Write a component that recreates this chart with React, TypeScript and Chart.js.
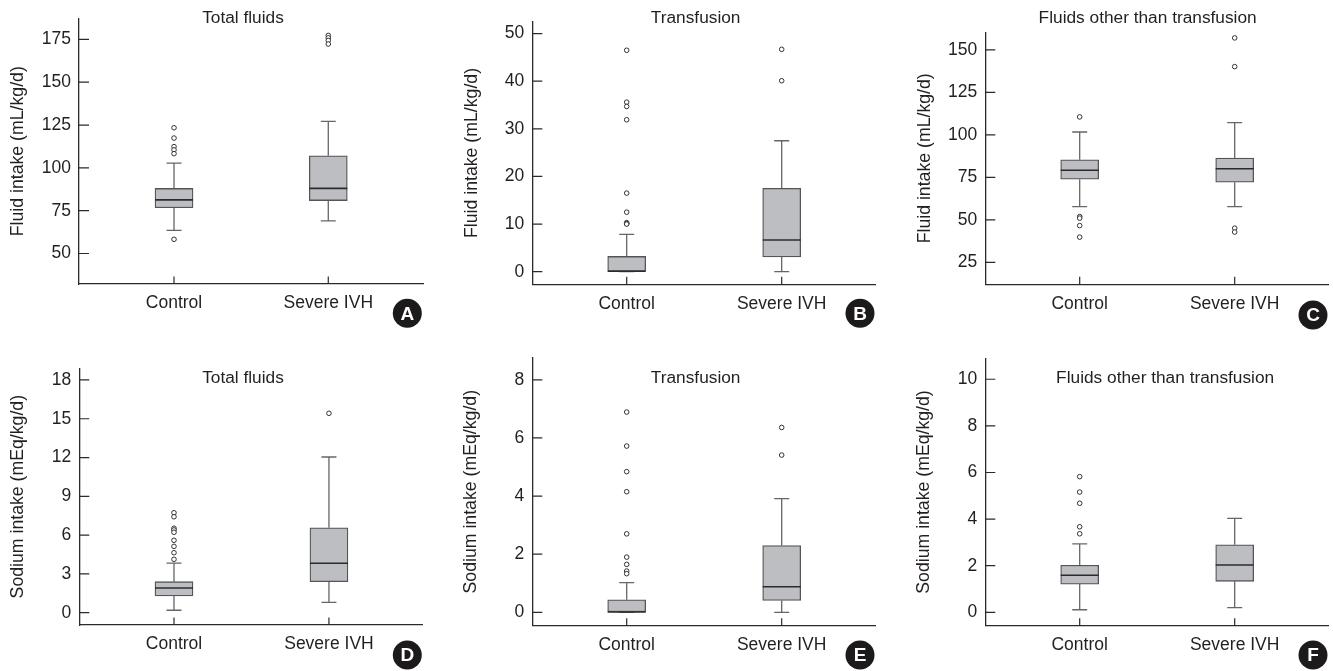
import React, { useEffect, useRef } from 'react';
import { Chart, registerables } from 'chart.js';

Chart.register(...registerables);

// ---------- data ----------
const groups = ['Control', 'Severe IVH'];
const fluidLabel = 'Fluid intake (mL/kg/d)';
const sodiumLabel = 'Sodium intake (mEq/kg/d)';
const titleTotal = 'Total fluids';
const titleTransfusion = 'Transfusion';
const titleOther = 'Fluids other than transfusion';

// A: total fluids, fluid intake
const aTicks = [50, 75, 100, 125, 150, 175];
const aRange = [32.2, 187.2];
const aLow = [63.5, 69.1];
const aQ1 = [76.7, 80.9];
const aMedian = [81.3, 88.0];
const aQ3 = [88.0, 107.0];
const aHigh = [102.8, 127.1];
const aOutControl = [123.4, 117.4, 112.4, 110.5, 108.3, 58.3];
const aOutIvh = [177.3, 175.9, 174.4, 172.3];

// B: transfusion, fluid intake
const bTicks = [0, 10, 20, 30, 40, 50];
const bRange = [-2.65, 52.5];
const bLow = [0, 0];
const bQ1 = [0, 3.1];
const bMedian = [0.1, 6.65];
const bQ3 = [3.2, 17.5];
const bHigh = [7.85, 27.5];
const bOutControl = [46.5, 35.6, 34.7, 31.9, 16.5, 12.5, 10.3, 10.1, 10.0];
const bOutIvh = [46.7, 40.1];

// C: fluids other than transfusion, fluid intake
const cTicks = [25, 50, 75, 100, 125, 150];
const cRange = [12.05, 160.4];
const cLow = [57.8, 57.8];
const cQ1 = [73.9, 72.1];
const cMedian = [79.2, 80.1];
const cQ3 = [85.3, 86.4];
const cHigh = [101.7, 107.2];
const cOutControl = [110.6, 51.9, 51.0, 46.6, 39.8];
const cOutIvh = [157.1, 140.2, 45.1, 42.8];

// D: total fluids, sodium intake
const dTicks = [0, 3, 6, 9, 12, 15, 18];
const dRange = [-0.95, 18.9];
const dLow = [0.19, 0.8];
const dQ1 = [1.29, 2.4];
const dMedian = [1.91, 3.82];
const dQ3 = [2.4, 6.57];
const dHigh = [3.84, 12.04];
const dOutControl = [7.73, 7.42, 6.53, 6.4, 6.22, 5.6, 5.13, 4.64, 4.13];
const dOutIvh = [15.42];

// E: transfusion, sodium intake
const eTicks = [0, 2, 4, 6, 8];
const eRange = [-0.46, 8.76];
const eLow = [0, 0];
const eQ1 = [0, 0.41];
const eMedian = [0.01, 0.88];
const eQ3 = [0.43, 2.3];
const eHigh = [1.02, 3.91];
const eOutControl = [6.89, 5.72, 4.84, 4.15, 2.7, 1.9, 1.65, 1.42, 1.33];
const eOutIvh = [6.36, 5.41];

// F: fluids other than transfusion, sodium intake
const fTicks = [0, 2, 4, 6, 8, 10];
const fRange = [-0.575, 10.9];
const fLow = [0.11, 0.2];
const fQ1 = [1.21, 1.33];
const fMedian = [1.59, 2.03];
const fQ3 = [2.02, 2.9];
const fHigh = [2.94, 4.03];
const fOutControl = [5.82, 5.16, 4.68, 3.67, 3.37];
const fOutIvh: number[] = [];

const panels = [
  { letter: 'A', title: titleTotal, yLabel: fluidLabel, ticks: aTicks, range: aRange, low: aLow, q1: aQ1, med: aMedian, q3: aQ3, high: aHigh, outs: [aOutControl, aOutIvh] },
  { letter: 'B', title: titleTransfusion, yLabel: fluidLabel, ticks: bTicks, range: bRange, low: bLow, q1: bQ1, med: bMedian, q3: bQ3, high: bHigh, outs: [bOutControl, bOutIvh] },
  { letter: 'C', title: titleOther, yLabel: fluidLabel, ticks: cTicks, range: cRange, low: cLow, q1: cQ1, med: cMedian, q3: cQ3, high: cHigh, outs: [cOutControl, cOutIvh] },
  { letter: 'D', title: titleTotal, yLabel: sodiumLabel, ticks: dTicks, range: dRange, low: dLow, q1: dQ1, med: dMedian, q3: dQ3, high: dHigh, outs: [dOutControl, dOutIvh] },
  { letter: 'E', title: titleTransfusion, yLabel: sodiumLabel, ticks: eTicks, range: eRange, low: eLow, q1: eQ1, med: eMedian, q3: eQ3, high: eHigh, outs: [eOutControl, eOutIvh] },
  { letter: 'F', title: titleOther, yLabel: sodiumLabel, ticks: fTicks, range: fRange, low: fLow, q1: fQ1, med: fMedian, q3: fQ3, high: fHigh, outs: [fOutControl, fOutIvh] },
];

// ---------- layout (pixels, per panel) ----------
const layouts = [
  { left: 0, top: 0, w: 445, h: 335, plot: [79, 16.7, 423, 284], xr: [-0.616, 1.614], titleY: 18.3, titleDx: -8, yTitleX: 18.3, badge: [407.3, 313.3] },
  { left: 445, top: 0, w: 443, h: 335, plot: [87.3, 21.7, 430, 284.3], xr: [-0.609, 1.602], titleY: 18.3, titleDx: -8, yTitleX: 27, badge: [415, 313.3] },
  { left: 888, top: 0, w: 445, h: 335, plot: [97.3, 32.3, 440, 284.3], xr: [-0.609, 1.602], titleY: 18.3, titleDx: -9, yTitleX: 37, badge: [425, 315] },
  { left: 0, top: 335, w: 445, h: 336, plot: [79.3, 33.3, 422.7, 290], xr: [-0.611, 1.605], titleY: 43.3, titleDx: -8, yTitleX: 18.3, badge: [407.3, 320] },
  { left: 445, top: 335, w: 443, h: 336, plot: [87.3, 22.7, 430, 290.7], xr: [-0.609, 1.602], titleY: 43.3, titleDx: -8, yTitleX: 26.5, badge: [415, 320] },
  { left: 888, top: 335, w: 445, h: 336, plot: [97.3, 23.3, 440, 290.7], xr: [-0.609, 1.602], titleY: 43.3, titleDx: 8.5, yTitleX: 36.5, badge: [425, 320] },
];

const FONT = "'Liberation Sans', Arial, Helvetica, sans-serif";
const TEXT = '#231f20';
const AXIS = '#2a2a2a';
const BOX_FILL = '#bdbec1';
const BOX_EDGE = '#555557';
const WHISKER = '#666668';
const MEDIAN = '#2b2b2d';

function makeChart(canvas: HTMLCanvasElement, p: typeof panels[number], L: typeof layouts[number]) {
  const [pl, pt, pr, pb] = L.plot;
  const titleSize = 17.7;
  const titleLH = titleSize * 1.2;

  const boxPlugin = {
    id: 'boxParts' + p.letter,
    beforeDatasetsDraw(chart: any) {
      const { ctx, scales } = chart;
      const x = scales.x, y = scales.y;
      ctx.save();
      ctx.strokeStyle = WHISKER;
      ctx.lineWidth = 1.3;
      groups.forEach((_, i) => {
        const cx = x.getPixelForValue(i);
        const yl = y.getPixelForValue(p.low[i]);
        const yh = y.getPixelForValue(p.high[i]);
        const y1 = y.getPixelForValue(p.q1[i]);
        const y3 = y.getPixelForValue(p.q3[i]);
        ctx.beginPath();
        ctx.moveTo(cx, y1); ctx.lineTo(cx, yl);
        ctx.moveTo(cx - 7.5, yl); ctx.lineTo(cx + 7.5, yl);
        ctx.moveTo(cx, y3); ctx.lineTo(cx, yh);
        ctx.moveTo(cx - 7.5, yh); ctx.lineTo(cx + 7.5, yh);
        ctx.stroke();
      });
      ctx.restore();
    },
    afterDatasetsDraw(chart: any) {
      const { ctx, scales } = chart;
      const x = scales.x, y = scales.y;
      ctx.save();
      ctx.strokeStyle = MEDIAN;
      ctx.lineWidth = 1.6;
      groups.forEach((_, i) => {
        const cx = x.getPixelForValue(i);
        const ym = y.getPixelForValue(p.med[i]);
        ctx.beginPath();
        ctx.moveTo(cx - 19, ym); ctx.lineTo(cx + 19, ym);
        ctx.stroke();
      });
      ctx.restore();
    },
    afterDraw(chart: any) {
      const { ctx, scales, chartArea } = chart;
      const x = scales.x, y = scales.y;
      ctx.save();
      // inward ticks
      ctx.strokeStyle = AXIS;
      ctx.lineWidth = 1.2;
      ctx.beginPath();
      p.ticks.forEach((t) => {
        const yy = y.getPixelForValue(t);
        ctx.moveTo(chartArea.left, yy); ctx.lineTo(chartArea.left + 10, yy);
      });
      groups.forEach((_, i) => {
        const xx = x.getPixelForValue(i);
        ctx.moveTo(xx, chartArea.bottom); ctx.lineTo(xx, chartArea.bottom - 7.5);
      });
      ctx.stroke();
      // panel title
      ctx.fillStyle = TEXT;
      ctx.font = `17.3px ${FONT}`;
      ctx.textAlign = 'center';
      ctx.textBaseline = 'middle';
      ctx.fillText(p.title, (chartArea.left + chartArea.right) / 2 + L.titleDx, L.titleY);
      // badge
      ctx.fillStyle = '#1c1a1b';
      ctx.beginPath();
      ctx.arc(L.badge[0], L.badge[1], 14.5, 0, Math.PI * 2);
      ctx.fill();
      ctx.fillStyle = '#ffffff';
      ctx.font = "bold 19px 'Liberation Sans', Arial, sans-serif";
      ctx.fillText(p.letter, L.badge[0], L.badge[1] + 1);
      ctx.restore();
    },
  };

  const outlierData: { x: number; y: number }[] = [];
  p.outs.forEach((arr, i) => arr.forEach((v) => outlierData.push({ x: i, y: v })));

  return new Chart(canvas, {
    type: 'bar',
    data: {
      datasets: [
        {
          type: 'bar',
          data: groups.map((_, i) => ({ x: i, y: [p.q1[i], p.q3[i]] })) as any,
          backgroundColor: BOX_FILL,
          borderColor: BOX_EDGE,
          borderWidth: 1.3,
          borderSkipped: false,
          barThickness: 38,
        },
        {
          type: 'scatter',
          data: outlierData,
          pointRadius: 2.3,
          pointBackgroundColor: '#ffffff',
          pointBorderColor: '#333333',
          pointBorderWidth: 1,
        } as any,
      ],
    },
    plugins: [boxPlugin],
    options: {
      responsive: false,
      animation: false,
      events: [],
      devicePixelRatio: 1,
      layout: { padding: { top: pt, right: L.w - pr, left: 0, bottom: 0 } },
      plugins: { legend: { display: false }, tooltip: { enabled: false } },
      scales: {
        x: {
          type: 'linear',
          offset: false,
          min: L.xr[0],
          max: L.xr[1],
          afterBuildTicks: (s: any) => { s.ticks = groups.map((_, i) => ({ value: i })); },
          afterFit: (s: any) => { s.height = L.h - pb; },
          grid: { display: true, offset: false, drawOnChartArea: false, drawTicks: false },
          border: { display: true, color: AXIS, width: 1.3 },
          ticks: {
            padding: 9,
            color: TEXT,
            font: { family: FONT, size: 17.5 },
            callback: (v: any) => groups[Math.round(Number(v))] ?? '',
            maxRotation: 0,
            autoSkip: false,
          },
        },
        y: {
          type: 'linear',
          min: p.range[0],
          max: p.range[1],
          afterBuildTicks: (s: any) => { s.ticks = p.ticks.map((t) => ({ value: t })); },
          afterFit: (s: any) => { s.width = pl; },
          grid: { display: true, drawOnChartArea: false, drawTicks: false },
          border: { display: true, color: AXIS, width: 1.3 },
          ticks: {
            padding: 8,
            color: TEXT,
            font: { family: FONT, size: 17.5 },
            autoSkip: false,
          },
          title: {
            display: true,
            text: p.yLabel,
            color: TEXT,
            font: { family: FONT, size: titleSize },
            padding: { top: L.yTitleX - titleLH / 2, bottom: 0 },
          },
        },
      },
    } as any,
  });
}

export default function App() {
  const refs = useRef<(HTMLCanvasElement | null)[]>([]);
  useEffect(() => {
    const charts = panels.map((p, i) => makeChart(refs.current[i]!, p, layouts[i]));
    return () => charts.forEach((c) => c.destroy());
  }, []);
  return (
    <div style={{ position: 'absolute', left: 0, top: 0, width: 1333, height: 671, background: '#fff' }}>
      {layouts.map((L, i) => (
        <canvas
          key={i}
          ref={(el) => { refs.current[i] = el; }}
          width={L.w}
          height={L.h}
          style={{ position: 'absolute', left: L.left, top: L.top, width: L.w, height: L.h }}
        />
      ))}
    </div>
  );
}
